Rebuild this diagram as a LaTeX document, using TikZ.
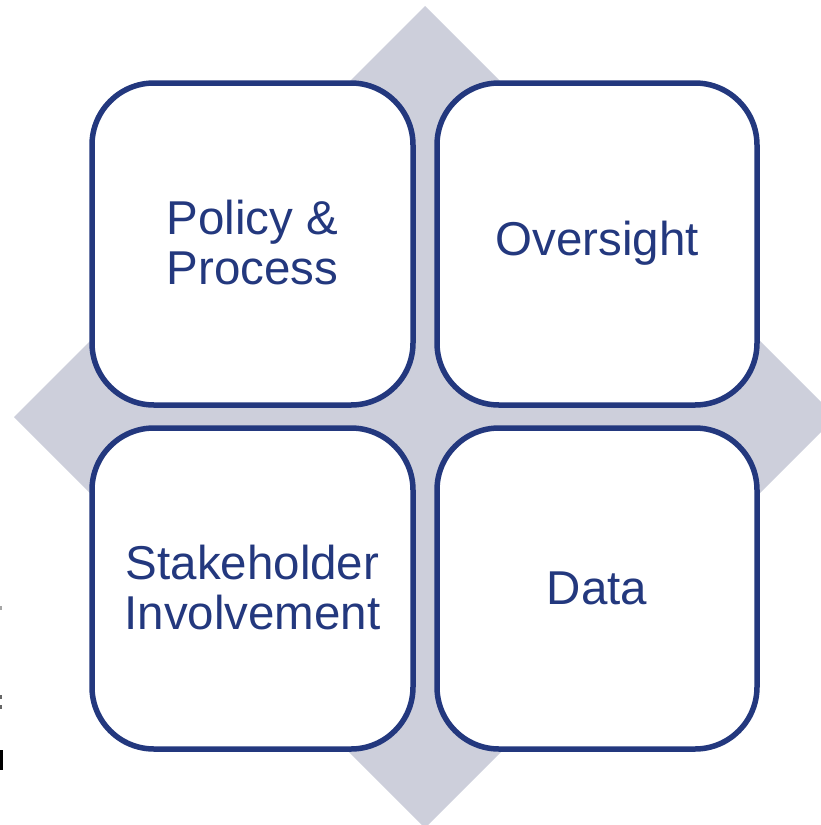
\documentclass[tikz,border=0pt]{standalone}
\usepackage{fontspec}
\setmainfont{Liberation Sans}
\definecolor{navy}{RGB}{35,56,126}
\definecolor{lav}{RGB}{205,207,219}
\begin{document}
\begin{tikzpicture}[x=1pt,y=-1pt,
  quad/.style={draw=navy, line width=5.5pt, fill=white, rounded corners=62pt},
  lbl/.style={text=navy, align=center, font=\fontsize{47.5}{50}\selectfont, inner sep=0pt}]
\useasboundingbox (0,0) rectangle (820,825);
\fill[lav] (425,6) -- (836,417) -- (425,828) -- (14,417) -- cycle;
\draw[quad] (92,83) rectangle (413,405);
\draw[quad] (437,83) rectangle (757,405);
\draw[quad] (92,428) rectangle (413,749);
\draw[quad] (437,428) rectangle (757,749);
\node[lbl] (pp) at (252.5,243) {Policy \&\\Process};
\node[lbl] (ov) at (597,243) {Oversight};
\node[lbl] (sh) at (252.5,588) {Stakeholder\\Involvement};
\node[lbl] (da) at (597,588) {Data};
\fill[black!35] (0,606) rectangle (1.5,610);
\fill[black!60] (0,695) rectangle (1.5,699);
\fill[black!60] (0,705) rectangle (1.5,709);
\fill[black] (0,750) rectangle (3,770);
\end{tikzpicture}
\end{document}
